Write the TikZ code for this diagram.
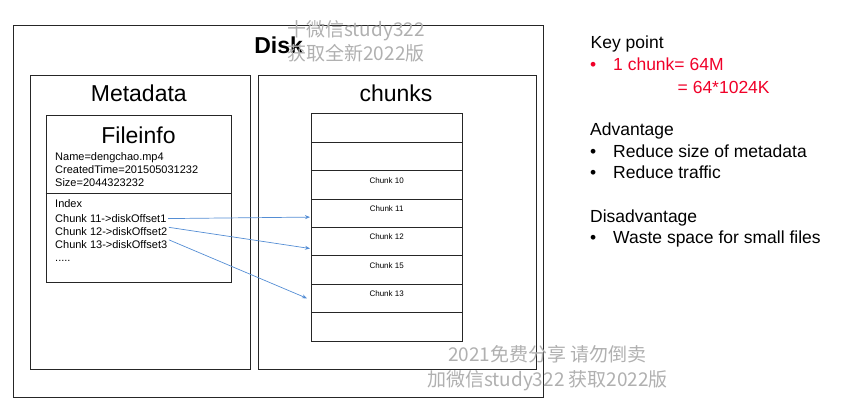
\documentclass[tikz,border=0pt]{standalone}
\usepackage{fontspec}
\setmainfont{Liberation Sans}
\newfontfamily\cjk{Noto Sans CJK SC}
\usetikzlibrary{calc,arrows.meta}
\definecolor{arrowblue}{RGB}{84,141,212}
\definecolor{keyred}{RGB}{240,0,40}
\definecolor{wmgray}{RGB}{176,176,176}
\begin{document}
\begin{tikzpicture}[x=1pt,y=-1pt,
  box/.style={draw=black!85, line width=0.8pt, inner sep=0pt, anchor=north west},
  cellbox/.style={box, minimum width=150.5pt, minimum height=28.4pt},
  title/.style={anchor=base, inner sep=0pt, font=\fontsize{23}{27}\selectfont},
  info/.style={anchor=base west, inner sep=0pt, font=\fontsize{11}{13}\selectfont},
  chunklbl/.style={anchor=base, inner sep=0pt, font=\fontsize{8}{10}\selectfont},
  rt/.style={anchor=base west, inner sep=0pt, font=\fontsize{17.5}{21}\selectfont},
  wm/.style={anchor=base, inner sep=0pt, text=wmgray, font=\cjk\fontsize{19}{22}\selectfont},
  conn/.style={draw=arrowblue, line width=0.7pt, -{Stealth[length=5pt,width=4pt]}}]
\useasboundingbox (0,0) rectangle (862,405);

% boxes
\node[box, minimum width=530pt, minimum height=372pt] (disk) at (13,25) {};
\node[box, minimum width=220pt, minimum height=294pt] (meta) at (30,74.5) {};
\node[box, minimum width=278pt, minimum height=294pt] (chunks) at (257.5,74.5) {};
\node[box, minimum width=185.5pt, minimum height=167pt] (fileinfo) at (45.7,115.3) {};
\coordinate (divy) at (0,193.3);
\draw[draw=black!85, line width=0.8pt] (fileinfo.west |- divy) -- (fileinfo.east |- divy);

% titles
\node[title, font=\bfseries\fontsize{23}{27}\selectfont] (disktitle) at (278.6,53.3) {Disk};
\node[title] (metatitle) at (138.8,101.7) {Metadata};
\node[title] (chunkstitle) at (396,101.7) {chunks};
\node[title] (fititle) at (138.5,143) {Fileinfo};

% file info text
\node[info] (lname) at (55,160) {Name=dengchao.mp4};
\node[info] (ltime) at (55,173.3) {CreatedTime=201505031232};
\node[info] (lsize) at (55,186.5) {Size=2044323232};
\node[info] (lindex) at (55,207.5) {Index};
\node[info] (l11) at (55,222.5) {Chunk 11->diskOffset1};
\node[info] (l12) at (55,235.5) {Chunk 12->diskOffset2};
\node[info] (l13) at (55,248) {Chunk 13->diskOffset3};
\node[info] (ldots) at (55,261) {.....};

% chunk cells
\foreach \i in {1,...,8}
  \node[cellbox] (c\i) at (311,{113.3+28.4*(\i-1)}) {};
\node[chunklbl] (t10) at ($(c3.north)+(0,13)$) {Chunk 10};
\node[chunklbl] (t11) at ($(c4.north)+(0,13)$) {Chunk 11};
\node[chunklbl] (t12) at ($(c5.north)+(0,13)$) {Chunk 12};
\node[chunklbl] (t15) at ($(c6.north)+(0,13)$) {Chunk 15};
\node[chunklbl] (t13) at ($(c7.north)+(0,13)$) {Chunk 13};

% connectors
\draw[conn] ($(l11.east)+(1.5,0)$) -- ($(c4.west)+(-1,4)$);
\draw[conn] ($(l12.north east)+(1.5,0)$) -- ($(c5.west)+(-1,7)$);
\draw[conn] ($(l13.north east)+(1.5,0)$) -- ($(c7.west)+(-4,0)$);

% right text
\node[rt] (kp) at (590.5,48.5) {Key point};
\node[rt, text=keyred] (kb) at (590,70.3) {•};
\node[rt, text=keyred] (k1) at (613,70.3) {1 chunk= 64M};
\node[rt, text=keyred] (k2) at (677.5,93) {= 64*1024K};
\node[rt] (adv) at (590,135) {Advantage};
\node[rt] (ab1) at (590,157) {•};
\node[rt] (a1) at (613,157) {Reduce size of metadata};
\node[rt] (ab2) at (590,178.7) {•};
\node[rt] (a2) at (613,178.7) {Reduce traffic};
\node[rt] (dis) at (590,222) {Disadvantage};
\node[rt] (db1) at (590,243) {•};
\node[rt] (d1) at (613,243) {Waste space for small files};

% watermark
\node[wm] (wm1) at (356,36) {十微信study322};
\node[wm] (wm2) at (356,60) {获取全新2022版};
\node[wm] (wm3) at (547.5,361.7) {2021免费分享 请勿倒卖};
\node[wm] (wm4) at (547.5,386) {加微信study322 获取2022版};
\end{tikzpicture}
\end{document}
